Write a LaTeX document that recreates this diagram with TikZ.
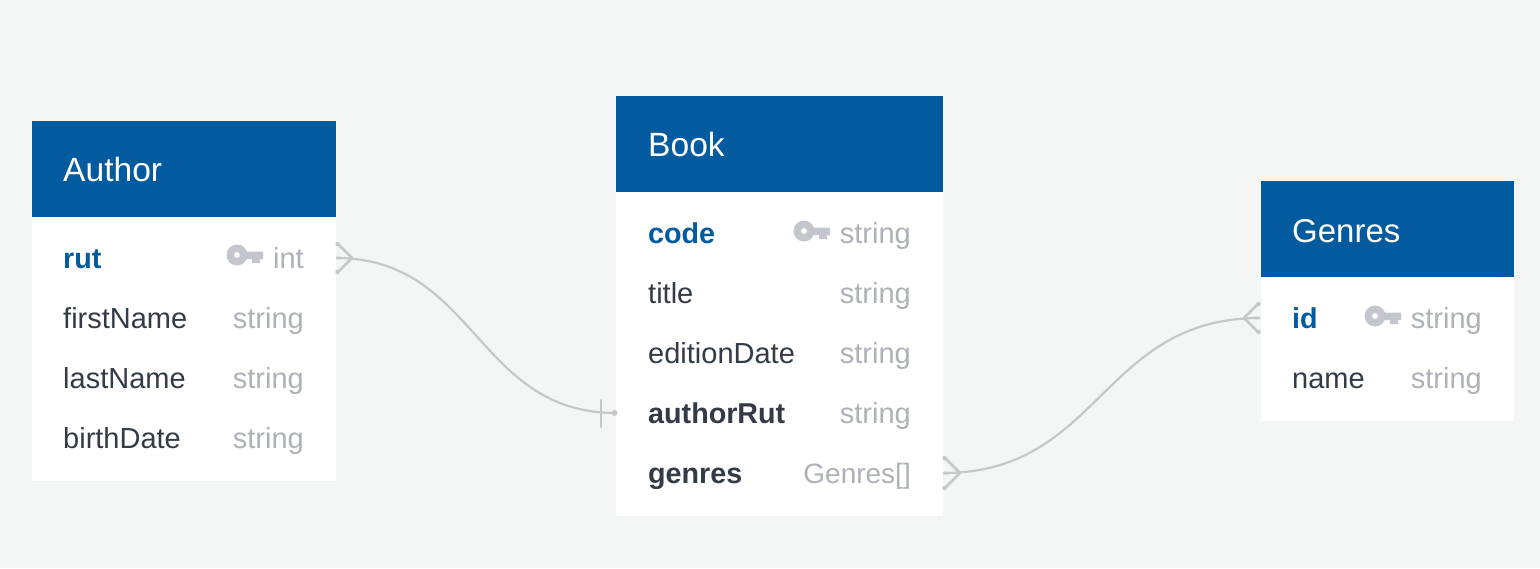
\documentclass[tikz,border=0pt]{standalone}
\usepackage{fontspec}
\setmainfont{Liberation Sans}
\definecolor{bgc}{HTML}{F4F6F5}
\definecolor{headc}{HTML}{025A9F}
\definecolor{typec}{HTML}{AEB2B8}
\definecolor{darkc}{HTML}{323B46}
\definecolor{keyc}{HTML}{C3C6CC}
\definecolor{linec}{HTML}{C6C8C7}
\tikzset{
  x=1pt,y=-1pt,
  headbox/.style={fill=headc,inner sep=0pt,minimum height=96pt,anchor=north west},
  bodybox/.style={fill=white,inner sep=0pt,anchor=north west},
  title/.style={text=white,inner sep=0pt,anchor=base west,font=\fontsize{33.6}{36}\selectfont},
  field/.style={text=darkc,inner sep=0pt,anchor=base west,font=\fontsize{29}{34}\selectfont},
  boldfield/.style={field,font=\fontsize{28.7}{34}\selectfont\bfseries},
  pkfield/.style={boldfield,text=headc},
  typ/.style={text=typec,inner sep=0pt,anchor=base east,font=\fontsize{29}{34}\selectfont},
  rel/.style={draw=linec,line width=2.2pt},
  relfoot/.style={draw=linec,line width=2.6pt,line cap=round},
}
\newcommand{\keyicon}[1]{%
  \fill[keyc,even odd rule] (#1) ++(10,0) circle[radius=10.5pt] circle[radius=3pt];
  \fill[keyc] (#1) ++(17,-3.5) -- ++(19,0) -- ++(0,7.5) -- ++(-3,0) -- ++(0,4) -- ++(-8,0) -- ++(0,-4) -- ++(-8,0) -- cycle;
}
\newcommand{\footdots}[3]{%
  \fill[linec] (#1,#2) circle[radius=2.2pt] (#1,#3) circle[radius=2.2pt];
}
\begin{document}
\begin{tikzpicture}
\useasboundingbox (0,0) rectangle (1540,568);
\fill[bgc] (0,0) rectangle (1540,568);

% Connectors first, under the tables
\coordinate (aR) at (336,258);
\coordinate (bA) at (616,413);
\coordinate (bG) at (943,473);
\coordinate (gI) at (1260,318);
\draw[rel] (aR) .. controls (476,258) and (476,413) .. (bA);
\draw[rel] (bG) .. controls (1101,473) and (1101,318) .. (gI);

% Author
\node[bodybox,minimum width=304pt,minimum height=264pt] (authorBody) at (32,217) {};
\node[headbox,minimum width=304pt] (authorHead) at (32,121) {};
\node[title] (authorT) at (63,181) {Author};
\node[pkfield] (a1) at (63,268) {rut};
\node[typ] (a1t) at (304,268) {int};
\keyicon{227,255}
\node[field] (a2) at (63,328) {firstName};
\node[typ] (a2t) at (304,328) {string};
\node[field] (a3) at (63,388) {lastName};
\node[typ] (a3t) at (304,388) {string};
\node[field] (a4) at (63,448) {birthDate};
\node[typ] (a4t) at (304,448) {string};

% Book
\node[bodybox,minimum width=327pt,minimum height=324pt] (bookBody) at (616,192) {};
\node[headbox,minimum width=327pt] (bookHead) at (616,96) {};
\node[title] (bookT) at (648,156) {Book};
\node[pkfield] (b1) at (648,243) {code};
\node[typ] (b1t) at (911,243) {string};
\keyicon{794,231}
\node[field] (b2) at (648,303) {title};
\node[typ] (b2t) at (911,303) {string};
\node[field] (b3) at (648,363) {editionDate};
\node[typ] (b3t) at (911,363) {string};
\node[boldfield] (b4) at (648,423) {authorRut};
\node[typ] (b4t) at (911,423) {string};
\node[boldfield] (b5) at (648,483) {genres};
\node[typ,font=\fontsize{28}{34}\selectfont] (b5t) at (911,483) {Genres[]};

% Genres
\node[bodybox,minimum width=253pt,minimum height=144pt] (genresBody) at (1261,277) {};
\node[headbox,minimum width=253pt] (genresHead) at (1261,181) {};
\node[title,font=\fontsize{33}{36}\selectfont] (genresT) at (1292,242) {Genres};
\node[pkfield] (g1) at (1292,328) {id};
\node[typ] (g1t) at (1482,328) {string};
\keyicon{1365,316}
\node[field] (g2) at (1292,388) {name};
\node[typ] (g2t) at (1482,388) {string};

% Crow's feet and bars
\draw[relfoot] (352,258) -- (337,243) (352,258) -- (337,273) (aR) ++(1,0) -- ++(4,0);
\footdots{337.5}{244}{272}
\draw[relfoot] (601,400) -- (601,427);
\fill[linec] (bA) ++(-1.5,0) circle[radius=3pt];
\draw[relfoot] (960,473) -- (944,457) (960,473) -- (944,489) (bG) ++(1,0) -- ++(4,0);
\footdots{944.5}{458}{488}
\draw[relfoot] (1244,318) -- (1259,303) (1244,318) -- (1259,333) (gI) ++(-1,0) -- ++(-4,0);
\footdots{1258.5}{304}{332}
\end{tikzpicture}
\end{document}
